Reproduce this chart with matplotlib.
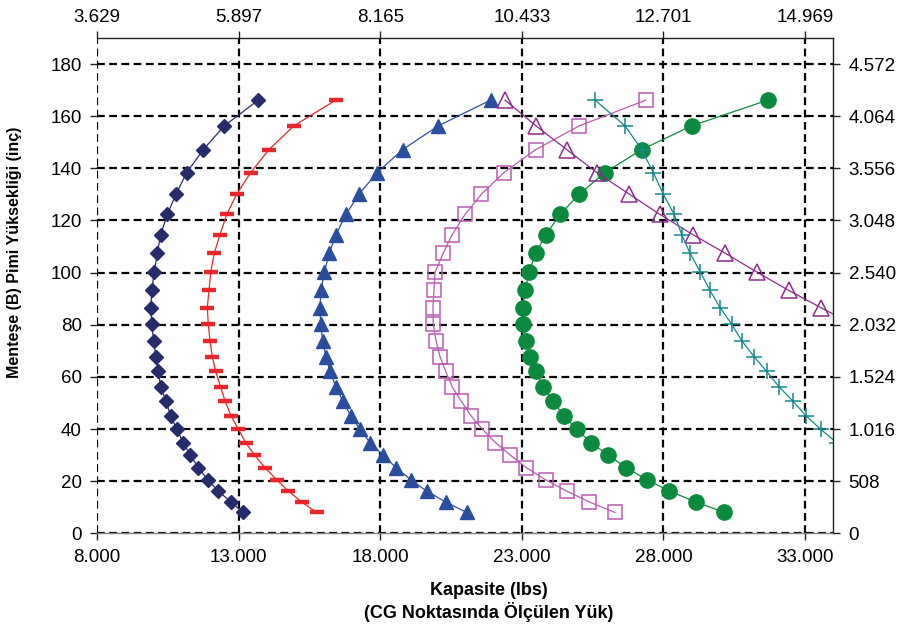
import numpy as np
import matplotlib
matplotlib.use('Agg')
import matplotlib.pyplot as plt
from matplotlib.ticker import FuncFormatter

plt.rcParams['font.family'] = ['Liberation Sans', 'DejaVu Sans']

# pin heights (inch), shared by the curves
heights = [8, 12, 16.2, 20.5, 25.2, 30.1, 34.8, 39.9, 45.1, 50.8, 56.1, 62.1, 67.8,
           73.9, 80.2, 86.6, 93.2, 100.1, 107.5, 114.6, 122.3, 130.1, 138.4, 147.2,
           156.3, 166.2]

# capacities (lbs)
cap_diamond = [13145, 12730, 12283, 11909, 11577, 11284, 11047, 10814, 10602, 10436,
               10249, 10165, 10073, 10002, 9931, 9907, 9931, 10023, 10129, 10249,
               10482, 10790, 11167, 11754, 12495, 13696]
cap_dash = [15758, 15228, 14755, 14345, 13932, 13554, 13251, 12989, 12732, 12520,
            12368, 12191, 12071, 11990, 11930, 11895, 11955, 12015, 12142, 12343,
            12580, 12933, 13427, 14073, 14950, 16439]
cap_tri = [21054, 20313, 19642, 19088, 18558, 18088, 17640, 17287, 16958, 16676,
           16439, 16227, 16086, 15970, 15899, 15874, 15910, 16026, 16203, 16439,
           16792, 17251, 17898, 18794, 20051, 21902]
cap_square = [26291, 25383, 24585, 23844, 23155, 22583, 22071, 21612, 21206, 20853,
              20546, 20313, 20112, 19970, 19875, 19864, 19900, 19935, 20228, 20546,
              20994, 21577, 22371, 23491, 25030, 27386]
cap_circle = [30150, 29151, 28208, 27431, 26679, 26033, 25444, 24939, 24490, 24091,
              23759, 23501, 23290, 23148, 23053, 23032, 23113, 23254, 23491, 23855,
              24349, 25030, 25938, 27234, 28999, 31694]

# these two run off the right edge of the chart
h_open_tri = [166.2, 156.3, 147.2, 138.4, 130.1, 122.3, 114.6, 107.5, 100.1, 93.2, 86.6, 80.2]
cap_open_tri = [22407, 23501, 24585, 25645, 26796, 27880, 29035, 30175, 31316, 32424, 33554, 34690]
h_plus = [166.2, 156.3, 147.2, 138.4, 130.1, 122.3, 114.6, 107.5, 100.1, 93.2, 86.6,
          80.2, 73.9, 67.8, 62.1, 56.1, 50.8, 45.1, 39.9, 34.8]
cap_plus = [25585, 26644, 27234, 27643, 27996, 28385, 28646, 28939, 29310, 29645, 29999,
            30412, 30765, 31199, 31647, 32093, 32566, 33035, 33554, 34120]

x_ticks = [8000, 13000, 18000, 23000, 28000, 33000]
y_ticks = [0, 20, 40, 60, 80, 100, 120, 140, 160, 180]


def dotted(v):
    return f"{int(round(v)):,}".replace(',', '.')


fig = plt.figure(figsize=(9.04, 6.28), dpi=100)
ax = fig.add_axes([97 / 904, 1 - 533.3 / 628, (833.3 - 97) / 904, (533.3 - 38) / 628])

ax.plot(cap_diamond, heights, color='#2a2f6f', lw=0.9, marker='D', ms=7.2,
        mfc='#252b6b', mec='#252b6b')
ax.plot(cap_dash, heights, color='#e8262b', lw=0.9, marker='_', ms=10.5, mew=3.2,
        mec='#e8262b')
ax.plot(cap_tri, heights, color='#2c4fa0', lw=0.9, marker='^', ms=10,
        mfc='#2a4d9e', mec='#2a4d9e')
ax.plot(cap_square, heights, color='#b85cb0', lw=0.9, marker='s', ms=10,
        mfc='none', mec='#b85cb0', mew=1.1)
ax.plot(cap_circle, heights, color='#0b8a3e', lw=0.9, marker='o', ms=11,
        mfc='#0b8a3e', mec='#0b8a3e')
ax.plot(cap_open_tri, h_open_tri, color='#8e2c8e', lw=0.9, marker='^', ms=11,
        mfc='none', mec='#8e2c8e', mew=1.1)
ax.plot(cap_plus, h_plus, color='#16888c', lw=0.9, marker='+', ms=11, mew=1.1,
        mec='#16888c')

ax.set_xlim(8000, 34000)
ax.set_ylim(0, 190)
ax.set_xticks(x_ticks)
ax.set_yticks(y_ticks)
ax.xaxis.set_major_formatter(FuncFormatter(lambda v, p: dotted(v)))

ax.grid(True, color='black', linestyle=(0, (3.5, 2)), linewidth=1.6)
ax.set_axisbelow(True)

# left edge shows the dashed grid line, bottom is a grey rule
ax.spines['left'].set_visible(False)
ax.spines['bottom'].set_color('#808080')
for s in ['top', 'right']:
    ax.spines[s].set_color('#222222')
for s in ax.spines.values():
    s.set_linewidth(1.0)

ax.tick_params(axis='both', labelsize=13.5, direction='out', length=5, width=1,
               color='#222222', pad=6)

# top axis in kg
top = ax.twiny()
top.set_xlim(ax.get_xlim())
top.set_xticks(x_ticks)
top.set_xticklabels([dotted(v * 0.45359237) for v in x_ticks])
top.tick_params(axis='x', labelsize=13.5, direction='out', length=5, width=1,
                color='#222222', pad=4)

# right axis in mm
right = ax.twinx()
right.set_ylim(ax.get_ylim())
right.set_yticks(y_ticks)
right.set_yticklabels([dotted(v * 25.4) for v in y_ticks])
right.tick_params(axis='y', labelsize=13.5, direction='out', length=5, width=1,
                  color='#222222', pad=6)
for a in (top, right):
    for s in a.spines.values():
        s.set_visible(False)

# axis titles placed like the original (not centred on the axes)
fig.text(489 / 904, 1 - 602 / 628, 'Kapasite (lbs)\n(CG Noktasında Ölçülen Yük)',
         fontsize=13, fontweight='bold', ha='center', va='center', linespacing=1.15)
fig.text(15 / 904, 1 - 252 / 628, 'Menteşe (B) Pimi Yüksekliği (inç)',
         fontsize=11.5, fontweight='bold', ha='center', va='center', rotation=90)

fig.savefig('out.png', dpi=100)
